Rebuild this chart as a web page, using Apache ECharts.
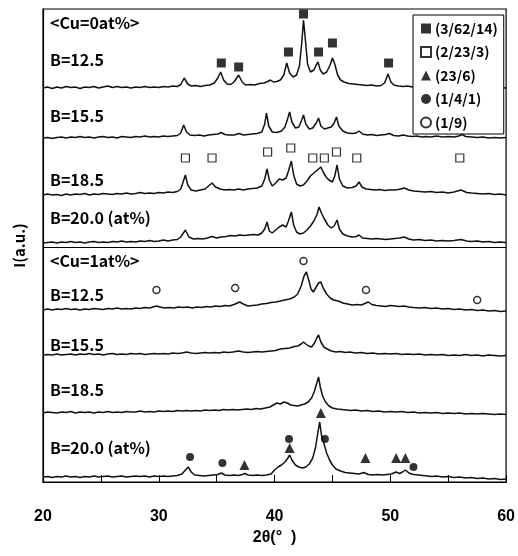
<!DOCTYPE html>
<html>
<head>
<meta charset="utf-8">
<script src="https://cdn.jsdelivr.net/npm/echarts@6/dist/echarts.min.js"></script>
<style>html,body{margin:0;padding:0;background:#fff}#c{width:518px;height:556px}</style>
</head>
<body>
<div id="c"></div>
<script>
// ---- data: 2θ (deg) vs intensity above each trace's baseline (a.u.) ----
const traceNames = ["Cu0 B=12.5","Cu0 B=15.5","Cu0 B=18.5","Cu0 B=20.0","Cu1 B=12.5","Cu1 B=15.5","Cu1 B=18.5","Cu1 B=20.0"];
const cu0_b125 = [[20,0],[20.4,1],[20.8,-0.5],[21.2,1],[21.6,0],[22,1.5],[22.4,0.5],[22.8,1],[23.2,-0.5],[23.6,1],[24,0.5],[24.4,1.5],[24.8,0],[25.2,1],[25.6,2],[26,0.5],[26.4,1.5],[26.8,0.5],[27.2,1],[27.6,0],[28,1],[28.4,0.5],[28.8,1.5],[29.2,0.5],[29.6,1],[30,0.5],[30.4,1.5],[30.8,1],[31.2,2],[31.6,1.5],[31.9,3.5],[32.2,10],[32.5,4],[32.8,2],[33.2,2.5],[33.6,1.5],[34,2.5],[34.4,3],[34.8,5],[35.1,10],[35.35,16],[35.6,8],[35.9,4],[36.2,3.5],[36.5,6],[36.9,13],[37.2,6],[37.5,3],[37.9,3.5],[38.3,3],[38.7,4.5],[39.1,5],[39.4,6.5],[39.65,8],[39.9,6],[40.2,6.5],[40.5,8],[40.8,13],[41.05,25],[41.3,15],[41.6,11],[41.9,13],[42.15,22],[42.35,45],[42.5,68],[42.65,50],[42.85,24],[43.1,16],[43.4,18],[43.6,23],[43.75,26],[43.95,18],[44.2,14],[44.5,16],[44.8,23],[45.0,30],[45.2,24],[45.45,13],[45.7,8],[46,6],[46.4,4.5],[46.8,4],[47.2,3.5],[47.6,3],[48,2.5],[48.4,3],[48.8,2],[49.2,2.5],[49.5,5],[49.8,14],[50.05,6],[50.3,3],[50.7,2],[51.1,1.5],[51.5,2],[51.9,1],[52.3,1.5],[52.7,0.5],[53.1,1],[53.5,1.5],[54,0.5],[54.5,1],[55,0],[55.5,1],[56,0.5],[56.5,1],[57,0],[57.5,1],[58,0.5],[58.5,1],[59,0],[59.5,0.5],[60,0]];
const cu0_b155 = [[20,0],[20.4,0.5],[20.8,-0.5],[21.2,0.5],[21.6,1],[22,0],[22.4,1],[22.8,0.5],[23.2,1.5],[23.6,0.5],[24,1],[24.4,0],[24.8,1],[25.2,1.5],[25.6,0.5],[26,1],[26.4,0],[26.8,1.5],[27.2,1],[27.6,0.5],[28,1.5],[28.4,1],[28.8,2],[29.2,1],[29.6,1.5],[30,1],[30.4,2],[30.8,1.5],[31.2,2],[31.6,2.5],[31.9,5],[32.15,13],[32.4,6],[32.7,3],[33.1,2.5],[33.5,3],[33.9,2],[34.3,3],[34.7,3.5],[35.1,4],[35.4,5.5],[35.7,3.5],[36.1,3],[36.5,3],[36.95,4.5],[37.3,3],[37.7,3.5],[38.1,4],[38.5,4.5],[38.9,6],[39.15,14],[39.3,25],[39.5,12],[39.8,6],[40.2,5.5],[40.6,7],[40.9,11],[41.15,20],[41.3,26],[41.5,16],[41.8,10],[42.1,11],[42.35,18],[42.5,23],[42.7,14],[43,9],[43.3,10],[43.6,15],[43.8,20],[44,12],[44.3,9],[44.6,10],[44.9,11],[45.15,15],[45.35,21],[45.55,12],[45.9,7],[46.3,5],[46.7,4.5],[47.05,5],[47.3,7],[47.6,4],[48,3],[48.4,3.5],[48.8,2.5],[49.2,3],[49.6,3.5],[49.9,4.5],[50.3,2.5],[50.7,2],[51.1,3],[51.5,2],[51.9,1.5],[52.3,2],[52.7,1],[53.1,1.5],[53.5,1],[54,2],[54.5,1],[55,1.5],[55.5,1],[55.9,2],[56.2,3.5],[56.5,1.5],[57,1],[57.5,0.5],[58,1],[58.5,0],[59,0.5],[59.5,0],[60,0.5]];
const cu0_b185 = [[20,0],[20.4,1],[20.8,0],[21.2,0.5],[21.6,-0.5],[22,1],[22.4,0],[22.8,1],[23.2,0.5],[23.6,1.5],[24,0],[24.4,1],[24.8,0.5],[25.2,1.5],[25.6,1],[26,0.5],[26.4,1.5],[26.8,1],[27.2,2],[27.6,1],[28,1.5],[28.4,2.5],[28.8,1.5],[29.2,2],[29.6,1.5],[30,2.5],[30.4,2],[30.8,3],[31.2,2.5],[31.6,3.5],[31.9,6],[32.1,13],[32.3,20],[32.5,10],[32.8,5],[33.2,4],[33.6,5],[34,6],[34.3,9],[34.6,12],[34.9,8],[35.3,6],[35.7,5],[36.1,5.5],[36.5,5],[36.9,6],[37.3,5],[37.7,6],[38.1,6.5],[38.5,7],[38.9,9],[39.15,16],[39.35,26],[39.55,15],[39.8,9],[40.1,12],[40.4,16],[40.7,15],[41,17],[41.2,24],[41.45,34],[41.65,20],[41.9,11],[42.2,9],[42.5,10],[42.8,14],[43.1,19],[43.4,22],[43.6,24],[43.8,26],[44.0,28],[44.2,23],[44.45,18],[44.7,15],[45,13],[45.2,19],[45.4,30],[45.6,16],[45.9,9],[46.3,7],[46.7,7.5],[47.05,9],[47.3,13],[47.55,8],[47.9,6],[48.3,5.5],[48.7,5],[49.1,5.5],[49.5,4.5],[49.9,5],[50.3,5],[50.7,5.5],[51.2,7],[51.6,5],[52,4],[52.5,3.5],[53,3],[53.5,3.5],[54,2.5],[54.5,3],[55,2],[55.5,3],[56.1,5],[56.6,2.5],[57,2],[57.5,1.5],[58,1],[58.5,1.5],[59,0.5],[59.5,1],[60,0]];
const cu0_b200 = [[20,0],[20.4,0.5],[20.8,1],[21.2,0],[21.6,1],[22,0.5],[22.4,1.5],[22.8,0.5],[23.2,1],[23.6,0],[24,1],[24.4,1.5],[24.8,0.5],[25.2,1],[25.6,0.5],[26,1.5],[26.4,1],[26.8,2],[27.2,1],[27.6,1.5],[28,1],[28.4,2],[28.8,1.5],[29.2,2.5],[29.6,1.5],[30,2],[30.4,3],[30.8,2],[31.2,3],[31.6,3.5],[31.9,6],[32.3,13],[32.6,6],[33,4],[33.4,4.5],[33.8,4],[34.2,5],[34.6,6.5],[35,5],[35.4,6],[35.8,6.5],[36.2,7.5],[36.6,7],[37,8],[37.4,7.5],[37.8,8],[38.2,8.5],[38.6,8],[38.9,10],[39.15,14],[39.35,21],[39.55,12],[39.8,10],[40.1,13],[40.4,16],[40.7,18],[41,16],[41.2,22],[41.45,31],[41.65,18],[41.9,11],[42.2,9],[42.5,10],[42.8,13],[43.1,17],[43.4,22],[43.65,28],[43.85,36],[44.05,30],[44.3,24],[44.6,18],[44.9,15],[45.15,17],[45.4,23],[45.6,14],[45.9,9],[46.3,7],[46.7,6],[47.05,6.5],[47.3,8],[47.6,5],[48,4.5],[48.4,4],[48.8,4.5],[49.2,4],[49.6,3.5],[50,4],[50.4,4.5],[50.8,5],[51.2,6],[51.6,4],[52,3],[52.5,3.5],[53,2.5],[53.5,3],[54,2],[54.5,2.5],[55,2],[55.5,2.5],[56.1,3.5],[56.6,2],[57,1.5],[57.5,2],[58,1],[58.5,1.5],[59,0.5],[59.5,1],[60,0.5]];
const cu1_b125 = [[20,0],[20.4,1],[20.8,0],[21.2,1],[21.6,0.5],[22,1.5],[22.4,0.5],[22.8,1],[23.2,0],[23.6,1],[24,0.5],[24.4,1.5],[24.8,1],[25.2,0.5],[25.6,1.5],[26,1],[26.4,2],[26.8,1],[27.2,1.5],[27.6,1],[28,2],[28.4,1.5],[28.8,2.5],[29.2,2],[29.5,3],[29.8,4],[30.1,3],[30.5,2],[30.9,2.5],[31.3,2],[31.7,3],[32.1,2.5],[32.5,3],[32.9,2],[33.3,3],[33.7,2.5],[34.1,3.5],[34.5,3],[34.9,4],[35.3,3.5],[35.7,4.5],[36.1,4],[36.5,5.5],[36.8,7],[37.0,8],[37.3,6],[37.7,4],[38.1,4.5],[38.5,5],[38.9,6],[39.3,6.5],[39.7,7.5],[40.1,8],[40.5,9],[40.9,10],[41.3,11],[41.7,13],[42.0,16],[42.3,24],[42.55,34],[42.75,38],[42.95,30],[43.15,21],[43.35,18],[43.55,22],[43.8,27],[44.0,28],[44.2,22],[44.5,16],[44.8,12],[45.1,10],[45.5,9],[45.9,7],[46.3,6],[46.7,5],[47.1,5.5],[47.5,5],[47.8,6.5],[48.1,8],[48.4,5.5],[48.8,4.5],[49.2,4],[49.6,3.5],[50,4.5],[50.4,4],[50.8,3.5],[51.2,4],[51.6,3],[52,2.5],[52.5,2],[53,2.5],[53.5,1.5],[54,2],[54.5,1],[55,1.5],[55.5,0.5],[56,1],[56.5,0],[57,0.5],[57.5,-0.5],[58,0],[58.5,-1],[59,-0.5],[59.5,-1.5],[60,-1]];
const cu1_b155 = [[20,0],[20.4,0.5],[20.8,0],[21.2,1],[21.6,0],[22,0.5],[22.4,1],[22.8,0],[23.2,1],[23.6,0.5],[24,1.5],[24.4,0.5],[24.8,1],[25.2,0],[25.6,1],[26,1.5],[26.4,0.5],[26.8,1],[27.2,0.5],[27.6,1.5],[28,1],[28.4,1.5],[28.8,0.5],[29.2,1],[29.6,1.5],[30,1],[30.4,1.5],[30.8,1],[31.2,2],[31.6,1.5],[32,2],[32.4,3],[32.8,2],[33.2,1.5],[33.6,2],[34,2.5],[34.4,2],[34.8,2.5],[35.2,2],[35.6,3],[36,2.5],[36.4,3],[36.9,4],[37.3,3],[37.7,2.5],[38.1,3],[38.5,3.5],[38.9,3],[39.3,3.5],[39.7,4],[40.1,4.5],[40.5,6],[40.9,6.5],[41.3,7],[41.7,8.5],[42.0,9],[42.3,11],[42.5,13],[42.7,11],[42.95,9],[43.2,8],[43.45,12],[43.65,17],[43.8,20],[44.0,13],[44.25,8],[44.55,6],[44.9,4],[45.3,3],[45.7,3.5],[46.1,2.5],[46.5,3],[47,2],[47.5,2.5],[48,1.5],[48.5,2],[49,1],[49.5,1.5],[50,1],[50.5,1.5],[51,0.5],[51.5,1],[52,0.5],[52.5,1],[53,0],[53.5,0.5],[54,0],[54.5,0.5],[55,-0.5],[55.5,0],[56,-0.5],[56.5,0.5],[57,-0.5],[57.5,0],[58,-1],[58.5,0],[59,-0.5],[59.5,-1],[60,-0.5]];
const cu1_b185 = [[20,0],[20.4,1],[20.8,0.5],[21.2,0],[21.6,1],[22,0.5],[22.4,1.5],[22.8,0],[23.2,1],[23.6,0.5],[24,1],[24.4,0],[24.8,1],[25.2,0.5],[25.6,1.5],[26,0.5],[26.4,1],[26.8,0.5],[27.2,1.5],[27.6,1],[28,1],[28.4,2],[28.8,1],[29.2,1.5],[29.6,1],[30,2],[30.4,1.5],[30.8,2],[31.2,1.5],[31.6,2.5],[32,2],[32.4,2.5],[32.8,2],[33.2,2.5],[33.6,2],[34,3],[34.4,2.5],[34.8,3],[35.2,2.5],[35.6,3.5],[36,3],[36.4,3.5],[36.8,3],[37.2,3.5],[37.6,4],[38,3.5],[38.4,4.5],[38.8,4],[39.2,5],[39.6,6],[39.9,8],[40.2,10],[40.5,9],[40.8,11],[41.1,10],[41.4,8],[41.7,7.5],[42,7],[42.3,8],[42.6,9],[42.9,11],[43.2,15],[43.45,22],[43.65,30],[43.8,36],[43.95,26],[44.15,17],[44.4,11],[44.7,7],[45,5],[45.4,4],[45.8,3.5],[46.2,3],[46.6,2.5],[47,3],[47.5,2],[48,2.5],[48.5,1.5],[49,2],[49.5,1],[50,1.5],[50.5,1],[51,1.5],[51.5,0.5],[52,1],[52.5,0],[53,0.5],[53.5,0],[54,0.5],[54.5,-0.5],[55,0],[55.5,-0.5],[56,0],[56.5,-1],[57,-0.5],[57.5,-1],[58,-0.5],[58.5,-1],[59,-1.5],[59.5,-1],[60,-1.5]];
const cu1_b200 = [[20,0],[20.4,0.5],[20.8,-0.5],[21.2,0.5],[21.6,0],[22,1],[22.4,0],[22.8,0.5],[23.2,-0.5],[23.6,0.5],[24,0],[24.4,1],[24.8,0],[25.2,0.5],[25.6,1],[26,0],[26.4,0.5],[26.8,1],[27.2,0],[27.6,0.5],[28,1],[28.4,0.5],[28.8,1],[29.2,0],[29.6,1],[30,0.5],[30.4,1],[30.8,0.5],[31.2,1],[31.6,1.5],[32,3],[32.3,7],[32.55,10],[32.8,5],[33.1,2],[33.5,1.5],[33.9,1],[34.3,1.5],[34.7,2],[35.1,2.5],[35.4,4],[35.7,2],[36.1,1.5],[36.5,2],[36.9,1.5],[37.2,2.5],[37.45,3.5],[37.7,2],[38.1,1.5],[38.5,2],[38.9,1.5],[39.3,2],[39.7,3],[40.0,7],[40.3,10],[40.6,12],[40.9,15],[41.15,19],[41.3,22],[41.5,17],[41.8,12],[42.1,10],[42.4,9],[42.7,10],[43.0,13],[43.3,19],[43.55,30],[43.75,45],[43.9,55],[44.05,42],[44.25,34],[44.5,24],[44.75,17],[45,12],[45.3,8],[45.7,6],[46.1,4.5],[46.5,4],[46.9,3.5],[47.3,3],[47.7,4.5],[48.1,2.5],[48.5,2],[48.9,2.5],[49.3,2],[49.7,2.5],[50.1,3],[50.5,5],[50.8,3.5],[51.05,5],[51.3,7],[51.6,4],[52,2.5],[52.4,2],[52.8,1.5],[53.2,1],[53.6,0.5],[54,1],[54.5,0],[55,0.5],[55.5,-0.5],[56,0],[56.5,-1],[57,-0.5],[57.5,-1.5],[58,-1],[58.5,-2],[59,-1.5],[59.5,-2.5],[60,-2]];
// phase markers [2θ, I]
const phase_3_62_14 = [[35.4,419],[36.9,415],[41.2,430],[42.5,468],[43.8,430],[45.0,439],[49.85,419]];
const phase_2_23_3 = [[32.3,324],[34.6,324],[39.4,330],[41.4,334],[43.3,324],[44.3,324],[45.35,330],[47.1,324],[56.0,324]];
const phase_23_6 = [[37.4,17],[41.3,34],[44.0,69],[47.85,24],[50.5,24],[51.3,24]];
const phase_1_4_1 = [[32.7,25],[35.5,19],[41.25,43],[44.35,43],[52.0,15]];
const phase_1_9 = [[29.8,192],[36.6,194],[42.5,221],[47.9,192],[57.5,182]];
const xTicks = [20,30,40,50,60];
const panelLabels = ["<Cu=0at%>","B=12.5","B=15.5","B=18.5","B=20.0 (at%)","<Cu=1at%>","B=12.5","B=15.5","B=18.5","B=20.0 (at%)"];

// ---- layout ----
const traces = [cu0_b125,cu0_b155,cu0_b185,cu0_b200,cu1_b125,cu1_b155,cu1_b185,cu1_b200];
const offsets = [394,344,287,239,172,127,69,5];
const separatorY = 235;
const labelY = [25,62,118,182,220,263,297,347,392,450];
const FONT = '"Noto Sans CJK JP","Noto Sans",sans-serif';

const chart = echarts.init(document.getElementById('c'));
const series = traces.map((t,i)=>({
  type:'line', name:traceNames[i], data:t.map(p=>[p[0],p[1]+offsets[i]]),
  showSymbol:false, symbol:'none', silent:true, z:2,
  lineStyle:{color:'#111',width:1.5},
  markLine: i===0 ? {silent:true,symbol:'none',label:{show:false},
     lineStyle:{color:'#000',width:1.2,type:'solid'},data:[{yAxis:separatorY}]} : undefined
}));
const mk = (name,data,symbol,size,filled,bw)=>({
  type:'scatter', name, data, symbol, symbolSize:size, z:3,
  itemStyle:{color: filled?'#000':'#fff', borderColor:'#000', borderWidth: filled?0:bw}
});
series.push(mk('(3/62/14)',phase_3_62_14,'rect',9,true,0));
series.push(mk('(2/23/3)',phase_2_23_3,'rect',8,false,1.2));
series.push(mk('(23/6)',phase_23_6,'triangle',10,true,0));
series.push(mk('(1/4/1)',phase_1_4_1,'circle',8,true,0));
series.push(mk('(1/9)',phase_1_9,'circle',7,false,1.5));

chart.setOption({
  animation:false,
  grid:{left:43,right:10,top:9,bottom:74,show:true,borderColor:'#000',borderWidth:1.2,backgroundColor:'transparent'},
  xAxis:{type:'value',min:20,max:60,interval:5,
    axisLine:{lineStyle:{color:'#000',width:1.2}},
    axisTick:{inside:true,length:7,lineStyle:{color:'#000'}},
    splitLine:{show:false},
    axisLabel:{margin:27,color:'#000',fontSize:16,fontWeight:'bold',fontFamily:'Liberation Sans, Arial, sans-serif',
      formatter:v=> xTicks.indexOf(v)>=0 ? String(v) : ''},
    name:'2θ(°  )',nameLocation:'middle',nameGap:42,
    nameTextStyle:{color:'#000',fontSize:16,fontWeight:'bold',fontFamily:'Liberation Sans, Arial, sans-serif'}
  },
  yAxis:{type:'value',min:0,max:473,axisLine:{show:true,lineStyle:{color:'#000',width:1.2}},
    axisTick:{show:false},axisLabel:{show:false},splitLine:{show:false},
    name:'I(a.u.)',nameLocation:'middle',nameGap:16,
    nameTextStyle:{color:'#000',fontSize:15,fontWeight:'bold',fontFamily:FONT}},
  legend:{data:['(3/62/14)','(2/23/3)','(23/6)','(1/4/1)','(1/9)'],orient:'vertical',
    left:413,top:15,width:93,padding:[6,6,4,7],itemGap:8.5,itemWidth:10,itemHeight:10,
    backgroundColor:'#fff',borderColor:'#000',borderWidth:1,z:10,
    textStyle:{color:'#000',fontSize:14,fontWeight:'bold',fontFamily:FONT,lineHeight:15,padding:[0,0,0,-1]},
    selectedMode:false},
  graphic: panelLabels.map((s,i)=>({type:'text',left:50,top:labelY[i]-10,z:20,
    style:{text:s,fill:'#000',font:'bold 16px '+FONT}})),
  series
});
</script>
</body>
</html>
